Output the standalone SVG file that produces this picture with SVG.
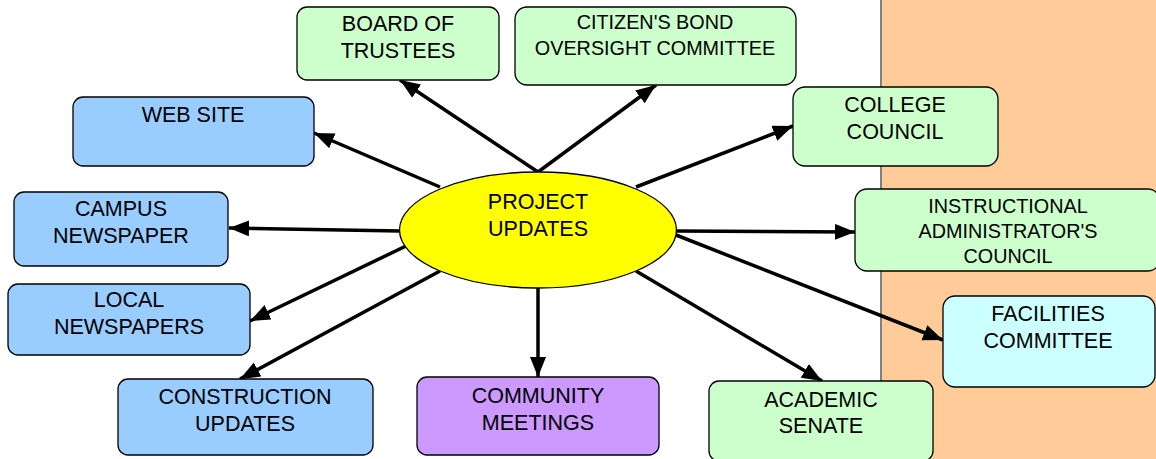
<svg xmlns="http://www.w3.org/2000/svg" width="1156" height="459" viewBox="0 0 1156 459">
<defs>
<style>
.box{stroke:#000;stroke-width:1.3}
.g{fill:#CCFFCC}.b{fill:#99CCFF}.p{fill:#CC99FF}.c{fill:#CCFFFF}
text{font-family:"Liberation Sans",Arial,sans-serif;font-size:21.5px;fill:#000;text-anchor:middle}
.s{font-size:19.8px}
.con line{stroke:#000;stroke-width:3.5;marker-end:url(#ah)}
</style>
<marker id="ah" markerUnits="userSpaceOnUse" markerWidth="22" markerHeight="18" refX="20" refY="8" orient="auto" viewBox="0 0 22 18">
<path d="M0,0 L20,8 L0,16 Z" fill="#000"/>
</marker>
</defs>
<rect x="881" y="-2" width="280" height="465" fill="#FFCC99" stroke="#808080" stroke-width="2"/>
<g class="con">
<line x1="538" y1="172" x2="400" y2="80"/>
<line x1="538" y1="172" x2="656" y2="85"/>
<line x1="636" y1="187" x2="793" y2="126"/>
<line x1="440" y1="187" x2="314" y2="133"/>
<line x1="400" y1="231" x2="229" y2="228"/>
<line x1="406" y1="246" x2="250" y2="321"/>
<line x1="440" y1="271" x2="240" y2="379"/>
<line x1="538" y1="288" x2="538" y2="377"/>
<line x1="636" y1="271" x2="822" y2="381"/>
<line x1="676" y1="231" x2="855" y2="232"/>
<line x1="676" y1="235" x2="943" y2="340"/>
</g>
<g id="project-updates">
<ellipse cx="538" cy="230" rx="138.5" ry="58" fill="#FFFF00" stroke="#000" stroke-width="1.3"/>
<text x="538" y="209">PROJECT</text>
<text x="538" y="236">UPDATES</text>
</g>
<g id="board"><rect class="box g" x="297" y="7" width="202" height="73" rx="10"/><text x="398" y="31">BOARD OF</text><text x="398" y="58">TRUSTEES</text></g>
<g id="citizens"><rect class="box g" x="515" y="7" width="281" height="78" rx="12"/><text class="s" x="655" y="29">CITIZEN'S BOND</text><text class="s" x="655" y="55">OVERSIGHT COMMITTEE</text></g>
<g id="college"><rect class="box g" x="793" y="87" width="205" height="79" rx="12"/><text x="895" y="112">COLLEGE</text><text x="895" y="139">COUNCIL</text></g>
<g id="website"><rect class="box b" x="73" y="97" width="241" height="69" rx="10"/><text x="193" y="122">WEB SITE</text></g>
<g id="campus"><rect class="box b" x="14" y="192" width="214" height="74" rx="10"/><text x="121" y="216">CAMPUS</text><text x="121" y="243">NEWSPAPER</text></g>
<g id="instructional"><rect class="box g" x="855" y="189" width="305" height="82" rx="12"/><text class="s" x="1008" y="213">INSTRUCTIONAL</text><text class="s" x="1008" y="238">ADMINISTRATOR'S</text><text class="s" x="1008" y="263">COUNCIL</text></g>
<g id="facilities"><rect class="box c" x="943" y="296" width="212" height="91" rx="12"/><text x="1048" y="321">FACILITIES</text><text x="1048" y="348">COMMITTEE</text></g>
<g id="local"><rect class="box b" x="8" y="284" width="242" height="71" rx="10"/><text x="129" y="307">LOCAL</text><text x="129" y="334">NEWSPAPERS</text></g>
<g id="construction"><rect class="box b" x="118" y="379" width="255" height="76" rx="10"/><text x="245" y="404">CONSTRUCTION</text><text x="245" y="431">UPDATES</text></g>
<g id="community"><rect class="box p" x="417" y="377" width="242" height="78" rx="10"/><text x="538" y="403">COMMUNITY</text><text x="538" y="430">MEETINGS</text></g>
<g id="academic"><rect class="box g" x="709" y="381" width="224" height="80" rx="10"/><text x="821" y="407">ACADEMIC</text><text x="821" y="433">SENATE</text></g>
</svg>
